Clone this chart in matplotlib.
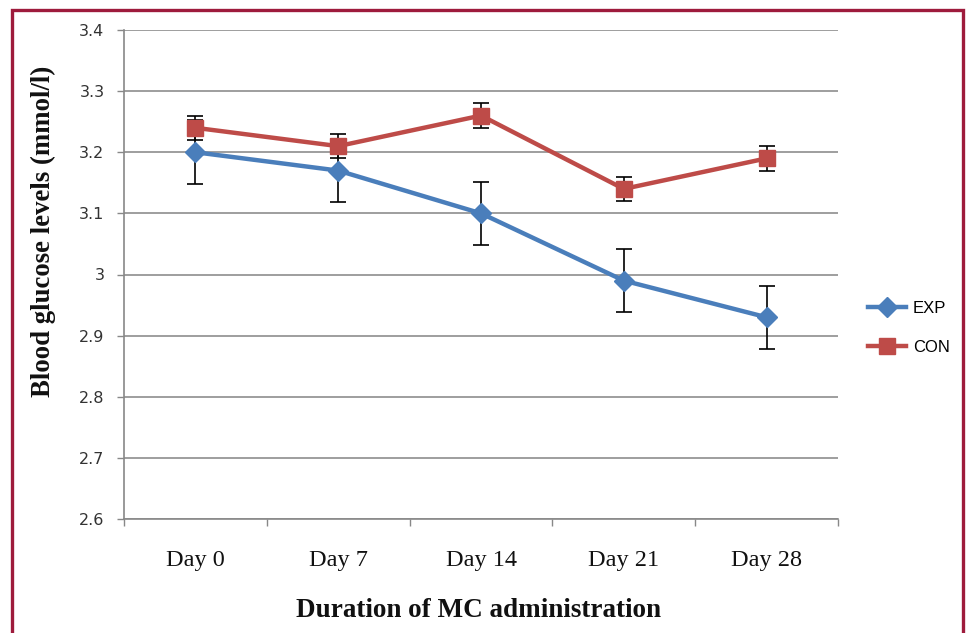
import matplotlib
matplotlib.use("Agg")
import matplotlib.pyplot as plt
from matplotlib.patches import Rectangle
from matplotlib.ticker import FixedLocator

categories = ["Day 0", "Day 7", "Day 14", "Day 21", "Day 28"]
exp_vals = [3.20, 3.17, 3.10, 2.99, 2.93]
exp_err = [0.052, 0.052, 0.052, 0.052, 0.052]
con_vals = [3.24, 3.21, 3.26, 3.14, 3.19]
con_err = [0.02, 0.02, 0.02, 0.02, 0.02]
series_names = ["EXP", "CON"]
ytick_values = [2.6, 2.7, 2.8, 2.9, 3.0, 3.1, 3.2, 3.3, 3.4]
ytick_labels = ["2.6", "2.7", "2.8", "2.9", "3", "3.1", "3.2", "3.3", "3.4"]

W, H = 966, 633
fig = plt.figure(figsize=(W / 100, H / 100), dpi=100)
ax = fig.add_axes([124 / W, 1 - 519 / H, (838 - 124) / W, (519 - 30) / H])

x = list(range(len(categories)))
blue = "#4A7EBB"
red = "#BE4B48"

ax.errorbar(x, exp_vals, yerr=exp_err, fmt="none", ecolor="black", elinewidth=1.2,
            capsize=5.5, capthick=1.2, zorder=3)
ax.errorbar(x, con_vals, yerr=con_err, fmt="none", ecolor="black", elinewidth=1.2,
            capsize=5.5, capthick=1.2, zorder=3)
ax.plot(x, exp_vals, color=blue, lw=3.2, marker="D", markersize=10, label=series_names[0], zorder=4)
ax.plot(x, con_vals, color=red, lw=3.2, marker="s", markersize=11.5, label=series_names[1], zorder=5)

ax.set_xlim(-0.5, len(categories) - 0.5)
ax.set_ylim(2.6, 3.4)
ax.set_yticks(ytick_values)
ax.set_yticklabels(ytick_labels, fontsize=11.5, color="#333333", family="DejaVu Sans")
ax.tick_params(axis="y", length=5, width=1, color="#888888", pad=9)
ax.grid(axis="y", color="#8E8E8E", lw=1.2)
ax.set_axisbelow(True)

ax.set_xticks(x)
ax.set_xticklabels(categories, fontsize=17.5, family="Liberation Serif", color="#111111")
ax.tick_params(axis="x", which="major", length=0, pad=22)
ax.xaxis.set_minor_locator(FixedLocator([i - 0.5 for i in range(len(categories) + 1)]))
ax.tick_params(axis="x", which="minor", length=5, width=1, color="#888888")

for s in ["top", "right"]:
    ax.spines[s].set_visible(False)
for s in ["left", "bottom"]:
    ax.spines[s].set_color("#888888")
    ax.spines[s].set_linewidth(1.2)

fig.text(479 / W, 1 - 617 / H, "Duration of MC administration", ha="center", va="baseline",
         fontsize=19.5, fontweight="bold", family="Liberation Serif", color="#111111")
fig.text(43 / W, 1 - 231.5 / H, "Blood glucose levels (mmol/l)", ha="center", va="center",
         rotation=90, fontsize=19.3, fontweight="bold", family="Liberation Serif", color="#111111")

leg = fig.legend(loc="center left", bbox_to_anchor=(853 / W, 1 - 328 / H), frameon=False,
                 prop={"family": "Liberation Sans", "size": 12}, handlelength=2.3,
                 labelspacing=1.45, handletextpad=0.4)

fig.add_artist(Rectangle((12 / W, -0.05), (963 - 12) / W, 1.05 - 10 / H, transform=fig.transFigure,
                         fill=False, edgecolor="#9E1B3C", lw=2.4))

fig.savefig("out.png", dpi=100)
